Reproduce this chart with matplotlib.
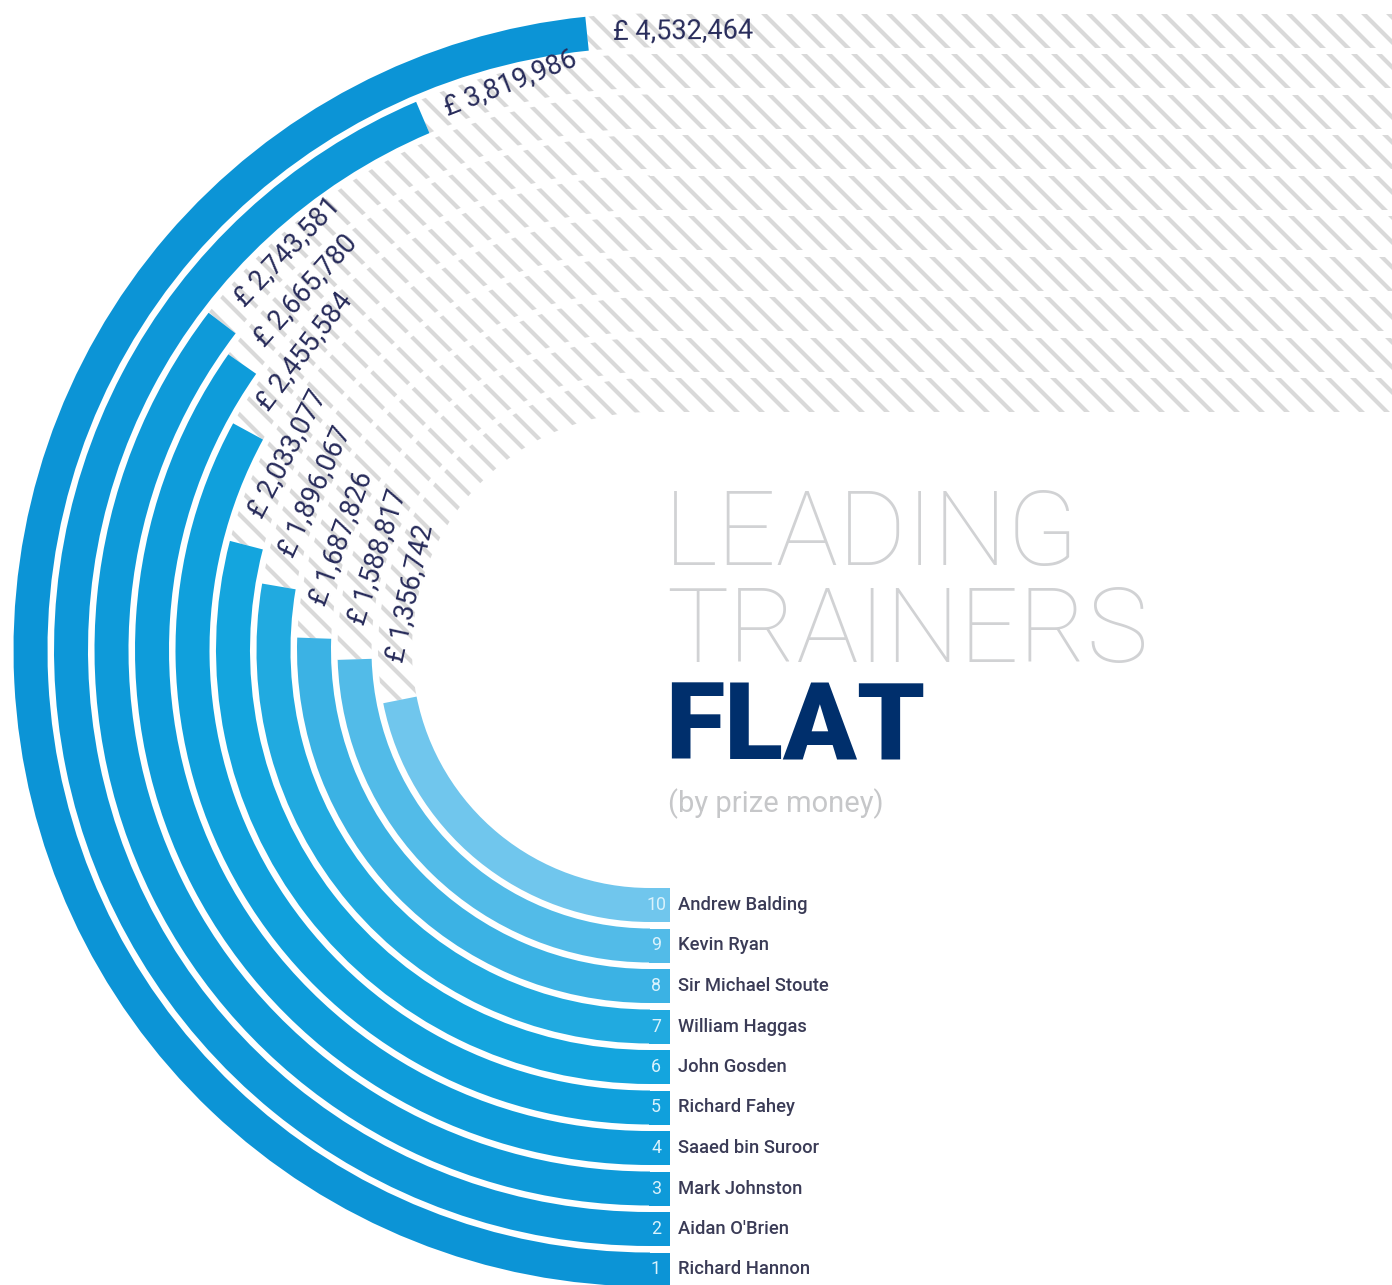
import numpy as np
import matplotlib.pyplot as plt
from matplotlib.patches import Wedge, Rectangle

# data, rank 1 (outer ring) to rank 10 (inner ring)
ranks = list(range(1, 11))
trainers = ["Richard Hannon", "Aidan O'Brien", "Mark Johnston", "Saaed bin Suroor",
            "Richard Fahey", "John Gosden", "William Haggas", "Sir Michael Stoute",
            "Kevin Ryan", "Andrew Balding"]
prize_money = [4532464, 3819986, 2743581, 2665780, 2455584,
               2033077, 1896067, 1687826, 1588817, 1356742]

bar_colors = ["#0c94d6", "#0d97d8", "#0e9ad9", "#0e9cda", "#10a0dc",
              "#14a5de", "#21aae0", "#3bb2e4", "#52bbe8", "#70c6ed"]

plt.rcParams['hatch.linewidth'] = 2.0
FONT = ['Roboto', 'DejaVu Sans']

W, H, DPI = 1392, 1285, 150
fig = plt.figure(figsize=(W / DPI, H / DPI), dpi=DPI)
ax = fig.add_axes([0, 0, 1, 1])
ax.set_xlim(-650, W - 650)
ax.set_ylim(650 - H, 650)
ax.set_aspect('equal')
ax.axis('off')

R_OUT, STEP, BW, BOX_END = 619.5, 40.5, 34, 20
HATCH_COL = '#d9d9d9'


def sweep_of(v):
    # angular scale of the rings (degrees from the bottom, clockwise)
    return -36.6 + 99.0 * np.sqrt(v / 1e6)


for i, (rank, name, v, col) in enumerate(zip(ranks, trainers, prize_money, bar_colors)):
    r = R_OUT - STEP * i
    sw = sweep_of(v)
    end = 270 - sw

    # hatched empty track: rest of the bend + straight lane to the right
    ax.add_patch(Wedge((0, 0), r + BW / 2, 90, end, width=BW, facecolor='none',
                       edgecolor=HATCH_COL, lw=0, hatch='\\\\'))
    ax.add_patch(Rectangle((0, r - BW / 2), W, BW, facecolor='none',
                           edgecolor=HATCH_COL, lw=0, hatch='\\\\'))

    # the bar itself
    ax.add_patch(Wedge((0, 0), r + BW / 2, end, 270, width=BW, facecolor=col, lw=0))
    ax.add_patch(Rectangle((-1, -r - BW / 2), BOX_END + 1, BW, facecolor=col, lw=0))

    # rank number in the box and trainer name
    ax.text(6, -r, str(rank), color='#d9f2fc', fontsize=8.5, ha='center', va='center',
            family=FONT)
    ax.text(BOX_END + 8, -r, name, color='#3a3b56', fontsize=8.8, ha='left', va='center',
            family=FONT, fontweight='medium')

    # value label just past the end of the bar
    t = 180 - sw
    rot = t - 0.0023 * t ** 2 - 6 * np.exp(-(t / 15) ** 2)
    off = np.radians(end) - (22 + 0.7 * (t - rot)) / r
    ax.text(r * np.cos(off), r * np.sin(off), "£ {:,}".format(v), rotation=rot,
            rotation_mode='anchor', ha='left', va='center', fontsize=13,
            color='#272b5a', family=FONT)

# title block
ax.text(14, 85, "LEADING", fontsize=50, color='#d1d2d4', family=FONT,
        fontweight='light', ha='left', va='baseline')
ax.text(16, -12, "TRAINERS", fontsize=50, color='#d1d2d4', family=FONT,
        fontweight='light', ha='left', va='baseline')
ax.text(15, -110, "FLAT", fontsize=52, color='#002f6c', family=FONT,
        fontweight='black', ha='left', va='baseline')
ax.text(18, -162, "(by prize money)", fontsize=14, color='#c6c7c9', family=FONT,
        ha='left', va='baseline')

fig.savefig('out.png', dpi=DPI, facecolor='white')
